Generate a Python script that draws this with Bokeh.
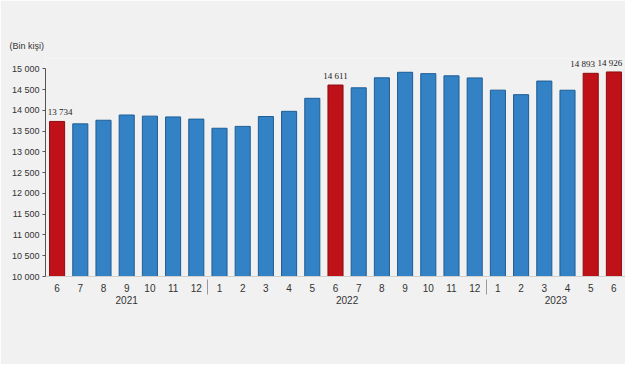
from bokeh.plotting import figure
from bokeh.models import FactorRange, ColumnDataSource, LabelSet, CustomJSTickFormatter, FixedTicker, Title
from bokeh.embed import file_html
from bokeh.resources import INLINE

years = ["2021"] * 7 + ["2022"] * 12 + ["2023"] * 6
months = ["6", "7", "8", "9", "10", "11", "12",
          "1", "2", "3", "4", "5", "6", "7", "8", "9", "10", "11", "12",
          "1", "2", "3", "4", "5", "6"]
values = [13734, 13676, 13763, 13889, 13862, 13843, 13790,
          13570, 13615, 13853, 13978, 14291, 14611, 14544, 14785, 14918, 14885, 14833, 14782,
          14488, 14379, 14707, 14486, 14893, 14926]
highlight = [True, False, False, False, False, False, False,
             False, False, False, False, False, True, False, False, False, False, False, False,
             False, False, False, False, True, True]
y_ticks = [10000, 10500, 11000, 11500, 12000, 12500, 13000, 13500, 14000, 14500, 15000]

RED = "#BE1218"
RED_LINE = "#8E0C10"
BLUE = "#3382C5"
BLUE_LINE = "#1E5D96"
BG = "#F1F1F1"
FONT = "Liberation Sans"

factors = list(zip(years, months))
fill = [RED if h else BLUE for h in highlight]
line = [RED_LINE if h else BLUE_LINE for h in highlight]
labels = [(f"{v:,}".replace(",", " ") if h else "") for v, h in zip(values, highlight)]
dx = [0] * len(values)
dx[0] = 3
dx[-2] = -8
dx[-1] = -4

src = ColumnDataSource(dict(x=factors, top=values, fill=fill, line=line, label=labels, dx=dx))

p = figure(x_range=FactorRange(*factors, group_padding=0, factor_padding=0, range_padding=0),
           y_range=(10000, 15250), width=625, height=364,
           output_backend="svg", toolbar_location=None,
           min_border_left=45, min_border_right=0, min_border_top=58, min_border_bottom=88,
           background_fill_color=BG, border_fill_color=BG, outline_line_color=None)

p.vbar(x="x", top="top", bottom=10000, width=0.65, source=src,
       fill_color="fill", line_color="line", line_width=1)

p.add_layout(LabelSet(x="x", y="top", text="label", source=src, text_align="center",
                      text_baseline="bottom", x_offset="dx", y_offset=4, text_font=FONT,
                      text_font_size="9px", text_color="#222222"))

p.add_layout(Title(text="(Bin kişi)", text_font=FONT, text_font_size="9px",
                   text_font_style="normal", text_color="#333333", standoff=15, offset=-36),
             "above")

p.xgrid.grid_line_color = None
p.ygrid.grid_line_color = None

p.yaxis.bounds = (10000, 15000)
p.yaxis.ticker = FixedTicker(ticks=y_ticks)
p.yaxis.formatter = CustomJSTickFormatter(code="return String(tick).replace(/\\B(?=(\\d{3})+(?!\\d))/g, ' ');")
p.yaxis.major_label_text_font = FONT
p.yaxis.major_label_text_font_size = "9px"
p.yaxis.major_label_text_color = "#333333"
p.yaxis.axis_line_color = "#555555"
p.yaxis.major_tick_line_color = "#555555"
p.yaxis.major_tick_in = 0
p.yaxis.major_tick_out = 3
p.yaxis.minor_tick_line_color = None
p.yaxis.major_label_standoff = 3

p.xaxis.axis_line_color = "#CFCFCF"
p.xaxis.major_tick_line_color = None
p.xaxis.minor_tick_line_color = None
p.xaxis.major_label_text_font = FONT
p.xaxis.major_label_text_font_size = "10px"
p.xaxis.major_label_text_color = "#333333"
p.xaxis.group_text_font = FONT
p.xaxis.group_text_font_size = "10px"
p.xaxis.group_text_font_style = "normal"
p.xaxis.group_text_color = "#333333"
p.xaxis.separator_line_color = "#9A9A9A"
p.xaxis.separator_line_width = 1
p.xaxis.major_label_standoff = 1
p.xaxis.group_label_orientation = "horizontal"

open("out.html", "w").write(file_html(p, INLINE))
